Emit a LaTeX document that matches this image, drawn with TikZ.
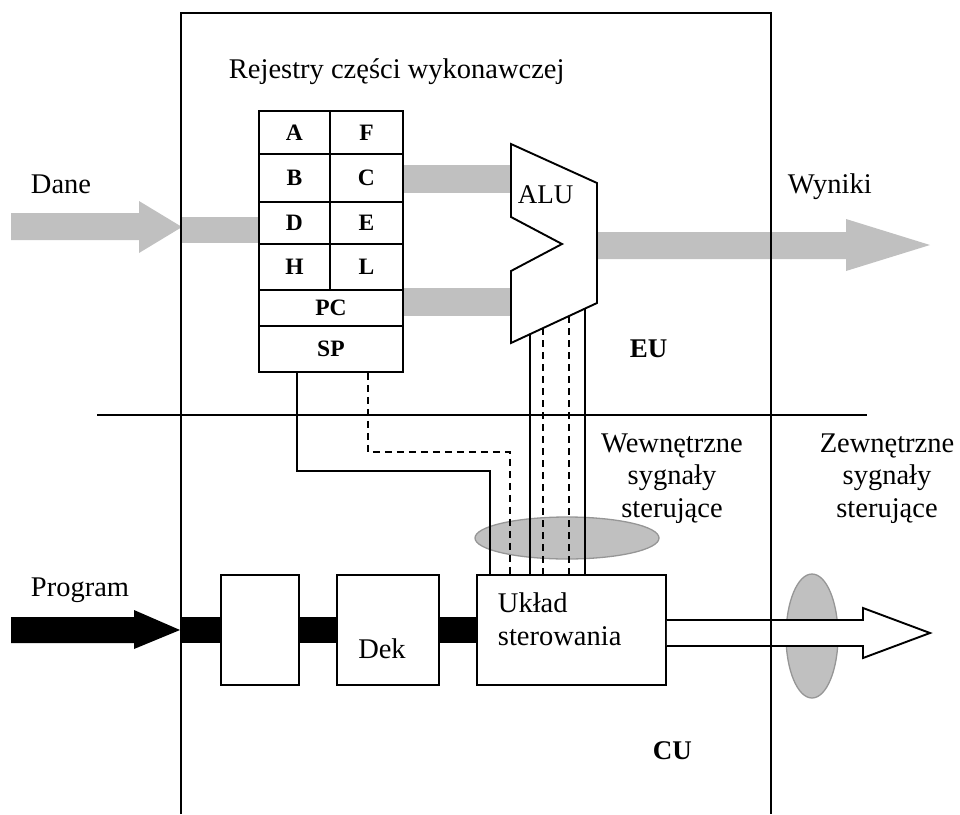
\documentclass[tikz,border=0pt]{standalone}
\usepackage{fontspec}
\setmainfont{Liberation Serif}
\usetikzlibrary{calc}
\definecolor{busgray}{RGB}{192,192,192}
\definecolor{ringgray}{RGB}{150,150,150}
\begin{document}
\begin{tikzpicture}[x=1pt,y=-1pt, line width=1.9pt,
  regcell/.style={draw, fill=white, line width=1.9pt, inner sep=0pt, anchor=north west,
                  font=\fontsize{23.5}{28}\selectfont\bfseries},
  blockbox/.style={draw, fill=white, line width=1.9pt, inner sep=0pt, anchor=north west},
  lbl/.style={inner sep=0pt, anchor=base west, font=\fontsize{28.5}{33}\selectfont},
  clbl/.style={inner sep=0pt, anchor=base, font=\fontsize{28.5}{33}\selectfont},
  blbl/.style={inner sep=0pt, anchor=base west, font=\fontsize{27}{32}\selectfont\bfseries},
  ctl/.style={line width=1.9pt},
  ctldash/.style={line width=1.9pt, dash pattern=on 7pt off 5pt},
  ring/.style={fill=busgray, draw=ringgray, line width=1.3pt},
]
\useasboundingbox (0,0) rectangle (960,814);

% ---------- gray data buses ----------
\fill[busgray] (11,213) -- (139,213) -- (139,201) -- (182,227) -- (139,253) -- (139,240) -- (11,240) -- cycle;
\fill[busgray] (182,217) rectangle (258,243);
\fill[busgray] (402,165) rectangle (511,193);
\fill[busgray] (402,288) rectangle (511,316);
\fill[busgray] (597,232) -- (846,232) -- (846,219) -- (930,245) -- (846,271) -- (846,259) -- (597,259) -- cycle;

% ---------- registers ----------
\node[regcell, minimum width=71pt, minimum height=43pt] (A) at (258,110) {A};
\node[regcell, minimum width=73pt, minimum height=43pt] (F) at (329,110) {F};
\node[regcell, minimum width=71pt, minimum height=48pt] (B) at (258,153) {B};
\node[regcell, minimum width=73pt, minimum height=48pt] (C) at (329,153) {C};
\node[regcell, minimum width=71pt, minimum height=42pt] (D) at (258,201) {D};
\node[regcell, minimum width=73pt, minimum height=42pt] (E) at (329,201) {E};
\node[regcell, minimum width=71pt, minimum height=46pt] (H) at (258,243) {H};
\node[regcell, minimum width=73pt, minimum height=46pt] (L) at (329,243) {L};
\node[regcell, minimum width=144pt, minimum height=36pt] (PC) at (258,289) {PC};
\node[regcell, minimum width=144pt, minimum height=46pt] (SP) at (258,325) {SP};

% ---------- ALU ----------
\coordinate (alutl) at (511,144);
\coordinate (alutr) at (597,183);
\coordinate (alubr) at (597,303);
\coordinate (alubl) at (511,343);
\draw[fill=white, line join=miter] (alutl) -- (alutr) -- (alubr) -- (alubl) -- (511,271) -- (562,244) -- (511,217) -- cycle;
\node[inner sep=0pt, anchor=base west, font=\fontsize{27}{32}\selectfont] (alulbl) at (517,203) {ALU};

% ---------- ellipses ----------
\draw[ring] (567,538) ellipse [x radius=92, y radius=21];
\draw[ring] (812,636) ellipse [x radius=26, y radius=62];

% ---------- control unit blocks ----------
\fill[black] (182,617) rectangle (476,643);
\fill[black] (11,617) -- (134,617) -- (134,610) -- (180,630) -- (134,649) -- (134,643) -- (11,643) -- cycle;
\node[blockbox, minimum width=78pt, minimum height=110pt] (fetch) at (220,574) {};
\node[blockbox, minimum width=102pt, minimum height=110pt] (dek) at (336,574) {};
\node[blockbox, minimum width=189pt, minimum height=110pt] (uklad) at (476,574) {};
\node[clbl] (deklbl) at (382,658) {Dek};
\node[lbl] (uk1) at (497,612) {Układ};
\node[lbl] (uk2) at (497,645) {sterowania};

% ---------- control signals ----------
\coordinate (a1) at ($(alubl)!0.221!(alubr)$);
\coordinate (a2) at ($(alubl)!0.372!(alubr)$);
\coordinate (a3) at ($(alubl)!0.674!(alubr)$);
\coordinate (a4) at ($(alubl)!0.860!(alubr)$);
\draw[ctl] (a1) -- (a1 |- uklad.north);
\draw[ctldash] (a2) -- (a2 |- uklad.north);
\draw[ctldash] (a3) -- (a3 |- uklad.north);
\draw[ctl] (a4) -- (a4 |- uklad.north);
\draw[ctl] (297,0 |- SP.south) |- (490,471) -- (490,0 |- uklad.north);
\draw[ctldash] (368,0 |- SP.south) |- (510,452) -- (510,0 |- uklad.north);

% ---------- external signals arrow ----------
\draw[fill=white, line join=miter] (uklad.east |- 0,620) -- (863,620) -- (863,608) -- (930,633) -- (863,658) -- (863,646) -- (uklad.east |- 0,646);

% ---------- frame and divider ----------
\coordinate (divl) at (97,415);
\coordinate (divr) at (867,415);
\draw (divl) -- (divr);
\draw (181,814) -- (181,13) -- (771,13) -- (771,814);

% ---------- labels ----------
\node[lbl] (rej) at (228,78) {Rejestry części wykonawczej};
\node[lbl] (dane) at (30,193) {Dane};
\node[lbl] (wyn) at (787,193) {Wyniki};
\node[lbl] (prog) at (30,596) {Program};
\node[blbl] (eu) at (629,357) {EU};
\node[blbl] (cu) at (652,759) {CU};
\node[clbl] (w1) at (672,452) {Wewnętrzne};
\node[clbl] (w2) at (672,484) {sygnały};
\node[clbl] (w3) at (672,517) {sterujące};
\node[clbl] (z1) at (887,452) {Zewnętrzne};
\node[clbl] (z2) at (887,484) {sygnały};
\node[clbl] (z3) at (887,517) {sterujące};
\end{tikzpicture}
\end{document}
